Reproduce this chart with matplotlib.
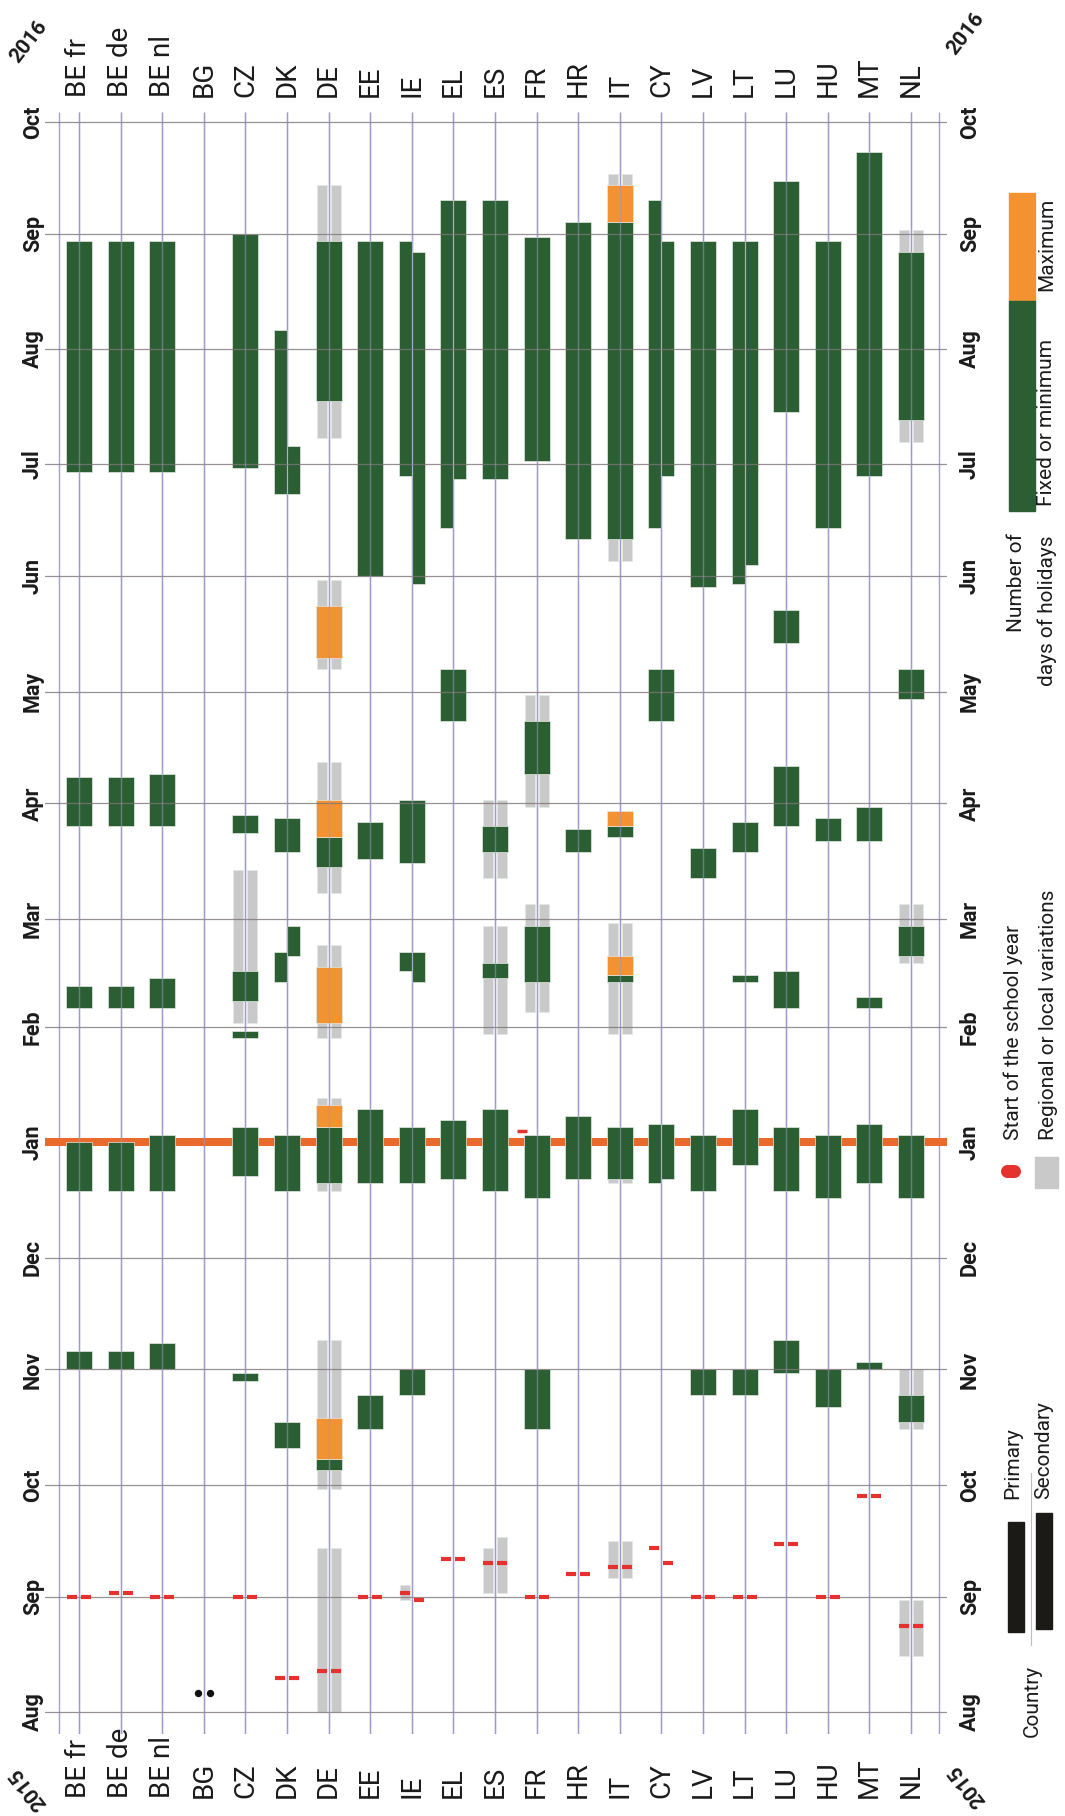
"""
School holidays 2015/16 by country, drawn rotated (time runs bottom to top,
one column per country, left half primary, right half secondary).

Output: out.png
"""
from datetime import date
import matplotlib
matplotlib.use('Agg')
import matplotlib.pyplot as plt
import matplotlib.dates as mdates
import matplotlib.transforms as mtransforms
from matplotlib.patches import Rectangle
from matplotlib.lines import Line2D

plt.rcParams['font.family'] = ['Roboto', 'DejaVu Sans']

W, H = 1065, 1816

countries = ['BE fr', 'BE de', 'BE nl', 'BG', 'CZ', 'DK', 'DE', 'EE', 'IE', 'EL', 'ES',
             'FR', 'HR', 'IT', 'CY', 'LV', 'LT', 'LU', 'HU', 'MT', 'NL']
month_labels = ['Aug', 'Sep', 'Oct', 'Nov', 'Dec', 'Jan', 'Feb', 'Mar', 'Apr',
                'May', 'Jun', 'Jul', 'Aug', 'Sep', 'Oct']
month_starts = ['2015-08-01', '2015-09-01', '2015-10-01', '2015-11-01', '2015-12-01',
                '2016-01-01', '2016-02-01', '2016-03-01', '2016-04-01', '2016-05-01',
                '2016-06-01', '2016-07-01', '2016-08-01', '2016-09-01', '2016-10-01']

# (country, level, first day, day after last); level B = both, P = primary, S = secondary
fixed_min = [
    ('BE fr', 'B', '2015-11-01', '2015-11-06'), ('BE fr', 'B', '2015-12-19', '2016-01-01'),
    ('BE fr', 'B', '2016-02-06', '2016-02-12'), ('BE fr', 'B', '2016-03-26', '2016-04-08'),
    ('BE fr', 'B', '2016-06-29', '2016-08-30'),
    ('BE de', 'B', '2015-11-01', '2015-11-06'), ('BE de', 'B', '2015-12-19', '2016-01-01'),
    ('BE de', 'B', '2016-02-06', '2016-02-12'), ('BE de', 'B', '2016-03-26', '2016-04-08'),
    ('BE de', 'B', '2016-06-29', '2016-08-30'),
    ('BE nl', 'B', '2015-11-01', '2015-11-08'), ('BE nl', 'B', '2015-12-19', '2016-01-03'),
    ('BE nl', 'B', '2016-02-06', '2016-02-14'), ('BE nl', 'B', '2016-03-26', '2016-04-09'),
    ('BE nl', 'B', '2016-06-29', '2016-08-30'),
    ('CZ', 'B', '2015-10-29', '2015-10-31'), ('CZ', 'B', '2015-12-23', '2016-01-05'),
    ('CZ', 'B', '2016-01-29', '2016-01-31'), ('CZ', 'B', '2016-02-08', '2016-02-16'),
    ('CZ', 'B', '2016-03-24', '2016-03-29'), ('CZ', 'B', '2016-06-30', '2016-09-01'),
    ('DK', 'B', '2015-10-11', '2015-10-18'), ('DK', 'B', '2015-12-19', '2016-01-03'),
    ('DK', 'P', '2016-02-13', '2016-02-21'), ('DK', 'S', '2016-02-20', '2016-02-28'),
    ('DK', 'B', '2016-03-19', '2016-03-28'), ('DK', 'P', '2016-06-23', '2016-08-06'),
    ('DK', 'S', '2016-06-23', '2016-07-06'),
    ('DE', 'B', '2015-10-05', '2015-10-08'), ('DE', 'B', '2015-12-21', '2016-01-05'),
    ('DE', 'B', '2016-03-15', '2016-03-23'), ('DE', 'B', '2016-07-18', '2016-08-30'),
    ('EE', 'B', '2015-10-16', '2015-10-25'), ('EE', 'B', '2015-12-21', '2016-01-10'),
    ('EE', 'B', '2016-03-17', '2016-03-27'), ('EE', 'B', '2016-06-01', '2016-08-30'),
    ('IE', 'B', '2015-10-25', '2015-11-01'), ('IE', 'B', '2015-12-21', '2016-01-05'),
    ('IE', 'P', '2016-02-16', '2016-02-21'), ('IE', 'S', '2016-02-13', '2016-02-21'),
    ('IE', 'B', '2016-03-16', '2016-04-02'), ('IE', 'P', '2016-06-28', '2016-08-30'),
    ('IE', 'S', '2016-05-30', '2016-08-27'),
    ('EL', 'B', '2015-12-22', '2016-01-07'), ('EL', 'B', '2016-04-23', '2016-05-07'),
    ('EL', 'P', '2016-06-14', '2016-09-10'), ('EL', 'S', '2016-06-27', '2016-09-10'),
    ('ES', 'B', '2015-12-19', '2016-01-10'), ('ES', 'B', '2016-02-14', '2016-02-18'),
    ('ES', 'B', '2016-03-19', '2016-03-26'), ('ES', 'B', '2016-06-27', '2016-09-10'),
    ('FR', 'B', '2015-10-16', '2015-11-01'), ('FR', 'B', '2015-12-17', '2016-01-03'),
    ('FR', 'B', '2016-02-13', '2016-02-28'), ('FR', 'B', '2016-04-09', '2016-04-23'),
    ('FR', 'B', '2016-07-02', '2016-08-31'),
    ('HR', 'B', '2015-12-22', '2016-01-08'), ('HR', 'B', '2016-03-19', '2016-03-25'),
    ('HR', 'B', '2016-06-11', '2016-09-04'),
    ('IT', 'B', '2015-12-22', '2016-01-05'), ('IT', 'B', '2016-02-13', '2016-02-15'),
    ('IT', 'B', '2016-03-23', '2016-03-26'), ('IT', 'B', '2016-06-11', '2016-09-04'),
    ('CY', 'P', '2015-12-21', '2016-01-06'), ('CY', 'S', '2015-12-22', '2016-01-06'),
    ('CY', 'B', '2016-04-23', '2016-05-07'), ('CY', 'P', '2016-06-14', '2016-09-10'),
    ('CY', 'S', '2016-06-28', '2016-08-30'),
    ('LV', 'B', '2015-10-25', '2015-11-01'), ('LV', 'B', '2015-12-19', '2016-01-03'),
    ('LV', 'B', '2016-03-12', '2016-03-20'), ('LV', 'B', '2016-05-29', '2016-08-30'),
    ('LT', 'B', '2015-10-25', '2015-11-01'), ('LT', 'B', '2015-12-26', '2016-01-10'),
    ('LT', 'B', '2016-02-13', '2016-02-15'), ('LT', 'B', '2016-03-19', '2016-03-27'),
    ('LT', 'P', '2016-05-30', '2016-08-30'), ('LT', 'S', '2016-06-04', '2016-08-30'),
    ('LU', 'B', '2015-10-31', '2015-11-09'), ('LU', 'B', '2015-12-19', '2016-01-05'),
    ('LU', 'B', '2016-02-06', '2016-02-16'), ('LU', 'B', '2016-03-26', '2016-04-11'),
    ('LU', 'B', '2016-05-14', '2016-05-23'), ('LU', 'B', '2016-07-15', '2016-09-15'),
    ('HU', 'B', '2015-10-22', '2015-11-01'), ('HU', 'B', '2015-12-17', '2016-01-03'),
    ('HU', 'B', '2016-03-22', '2016-03-28'), ('HU', 'B', '2016-06-14', '2016-08-30'),
    ('MT', 'B', '2015-11-01', '2015-11-03'), ('MT', 'B', '2015-12-21', '2016-01-06'),
    ('MT', 'B', '2016-02-06', '2016-02-09'), ('MT', 'B', '2016-03-22', '2016-03-31'),
    ('MT', 'B', '2016-06-28', '2016-09-23'),
    ('NL', 'B', '2015-10-18', '2015-10-25'), ('NL', 'B', '2015-12-17', '2016-01-03'),
    ('NL', 'B', '2016-02-20', '2016-02-28'), ('NL', 'B', '2016-04-29', '2016-05-07'),
    ('NL', 'B', '2016-07-13', '2016-08-27'),
]

maximum = [
    ('DE', 'B', '2015-10-08', '2015-10-19'), ('DE', 'B', '2016-01-05', '2016-01-11'),
    ('DE', 'B', '2016-02-02', '2016-02-17'), ('DE', 'B', '2016-03-23', '2016-04-02'),
    ('DE', 'B', '2016-05-10', '2016-05-24'),
    ('IT', 'B', '2016-02-15', '2016-02-20'), ('IT', 'B', '2016-03-26', '2016-03-30'),
    ('IT', 'B', '2016-09-04', '2016-09-14'),
]

regional = [
    ('CZ', 'B', '2016-02-02', '2016-03-14'),
    ('DE', 'B', '2015-08-01', '2015-09-14'), ('DE', 'B', '2015-09-30', '2015-11-09'),
    ('DE', 'B', '2015-12-19', '2016-01-13'), ('DE', 'B', '2016-01-29', '2016-02-23'),
    ('DE', 'B', '2016-03-08', '2016-04-12'), ('DE', 'B', '2016-05-07', '2016-05-31'),
    ('DE', 'B', '2016-07-08', '2016-09-14'),
    ('IE', 'P', '2015-08-31', '2015-09-04'),
    ('ES', 'P', '2015-09-02', '2015-09-14'), ('ES', 'S', '2015-09-02', '2015-09-17'),
    ('ES', 'B', '2016-01-30', '2016-02-28'), ('ES', 'B', '2016-03-12', '2016-04-02'),
    ('FR', 'B', '2016-02-05', '2016-03-05'), ('FR', 'B', '2016-03-31', '2016-04-30'),
    ('IT', 'B', '2015-09-06', '2015-09-16'), ('IT', 'B', '2015-12-21', '2016-01-05'),
    ('IT', 'B', '2016-01-30', '2016-02-29'), ('IT', 'B', '2016-06-05', '2016-09-17'),
    ('NL', 'B', '2015-08-16', '2015-08-31'), ('NL', 'B', '2015-10-16', '2015-11-01'),
    ('NL', 'B', '2016-02-18', '2016-03-05'), ('NL', 'B', '2016-07-07', '2016-09-02'),
]

school_start = [
    ('BE fr', 'B', '2015-09-01'), ('BE de', 'B', '2015-09-02'), ('BE nl', 'B', '2015-09-01'),
    ('CZ', 'B', '2015-09-01'), ('DK', 'B', '2015-08-10'), ('DE', 'B', '2015-08-12'),
    ('EE', 'B', '2015-09-01'), ('IE', 'P', '2015-09-02'), ('IE', 'S', '2015-08-31'),
    ('EL', 'B', '2015-09-11'), ('ES', 'B', '2015-09-10'), ('FR', 'B', '2015-09-01'),
    ('HR', 'B', '2015-09-07'), ('IT', 'B', '2015-09-09'), ('CY', 'P', '2015-09-14'),
    ('CY', 'S', '2015-09-10'), ('LV', 'B', '2015-09-01'), ('LT', 'B', '2015-09-01'),
    ('LU', 'B', '2015-09-15'), ('HU', 'B', '2015-09-01'), ('MT', 'B', '2015-09-28'),
    ('NL', 'B', '2015-08-24'),
]
fr_extra_start = '2016-01-04'      # small stray mark left of FR in January
no_data = [('BG', '2015-08-06')]   # the two dots

GREEN = '#2c5e34'
ORANGE = '#f39231'
GREY = '#c9c9c9'
RED = '#e6322f'
YEAR_LINE = '#ea6a2d'
COL_LINE = '#9d97c9'
MONTH_LINE = '#7d7676'
TXT = '#1b1b1b'


def dnum(s):
    return mdates.date2num(date.fromisoformat(s))


def fx(px):
    return px / W


def fy(py):
    return 1 - py / H


xpos = {c: i for i, c in enumerate(countries)}
HALF = 13 / 41.6
G0, G1 = 2 / 41.6, 12 / 41.6

fig = plt.figure(figsize=(W / 100, H / 100), dpi=100)
ax = fig.add_axes([fx(45), fy(1734), (947 - 45) / W, (1734 - 112) / H])
aug1 = dnum('2015-08-01')
ax.set_xlim(-0.817, 20.865)
ax.set_ylim(aug1 - 22 / 3.724, aug1 + 1600 / 3.724)
ax.axis('off')


def halves(level, a, b):
    # x-extents of the half columns a mark covers
    out = []
    if level in ('B', 'P'):
        out.append((-b, -a))
    if level in ('B', 'S'):
        out.append((a, b))
    return out


def draw_bars(rows, color, z, grey=False):
    for c, lev, s, e in rows:
        x = xpos[c]
        y0, y1 = dnum(s), dnum(e)
        if grey:
            parts = halves(lev, G0, G1)
        elif lev == 'B':
            parts = [(-HALF, HALF)]
        else:
            parts = halves(lev, 0, HALF)
        for a, b in parts:
            ax.bar(x + a, y1 - y0, width=b - a, bottom=y0, align='edge', color=color,
                   edgecolor='#e4e9e2', linewidth=0.5, zorder=z)


# grid
for m in month_starts:
    if m == '2016-01-01':
        continue   # covered by the year line
    ax.axhline(dnum(m), color=MONTH_LINE, lw=0.9, alpha=0.8, zorder=3.5)
ylo, yhi = ax.get_ylim()
ax.vlines(list(range(len(countries))) + [-0.48, 20.67], ylo, yhi,
          color=COL_LINE, lw=1.0, alpha=0.9, zorder=1.2)

# year boundary
ax.axhline(dnum('2016-01-01'), color=YEAR_LINE, lw=5.8, zorder=1.5)

draw_bars(regional, GREY, 2, grey=True)
draw_bars(fixed_min, GREEN, 3)
draw_bars(maximum, ORANGE, 3)

# column lines show through the bars
for i in range(len(countries)):
    ax.vlines(i, ylo, yhi, color=COL_LINE, lw=1.0, alpha=0.55, zorder=3.6)

# start of the school year
for c, lev, d in school_start:
    for a, b in halves(lev, G0, G1):
        ax.hlines(dnum(d), xpos[c] + a, xpos[c] + b, color=RED, lw=3, zorder=5)
ax.hlines(dnum(fr_extra_start), xpos['FR'] - 0.48, xpos['FR'] - 0.22, color=RED, lw=2.5, zorder=5)
for c, d in no_data:
    ax.scatter([xpos[c] - 0.145, xpos[c] + 0.145], [dnum(d)] * 2, s=28, color='#111111',
               zorder=5, linewidths=0)

# month labels on both sides
tr_month = mtransforms.blended_transform_factory(fig.transFigure, ax.transData)
for lab, m in zip(month_labels, month_starts):
    for px in (33, 970):
        ax.text(fx(px), dnum(m), lab, transform=tr_month, rotation=90, ha='center',
                va='center', fontsize=15.5, fontweight='bold', color=TXT, clip_on=False)

# country labels top and bottom
tr_ctry = mtransforms.blended_transform_factory(ax.transData, fig.transFigure)
for c in countries:
    ax.text(xpos[c], fy(97), c, transform=tr_ctry, rotation=90, ha='center', va='bottom',
            fontsize=20, color=TXT, clip_on=False)
    ax.text(xpos[c], fy(1798), c, transform=tr_ctry, rotation=90, ha='center', va='bottom',
            fontsize=20, color=TXT, clip_on=False)

# year corners
for px, py, s, r in [(29, 42, '2016', 52), (966, 34, '2016', 52),
                     (28, 1789, '2015', 128), (967, 1786, '2015', 128)]:
    fig.text(fx(px), fy(py), s, rotation=r, ha='center', va='center', fontsize=15,
             fontweight='bold', color=TXT)

# legend: number of days
fig.add_artist(Rectangle((fx(1009), fy(301)), 26 / W, 108 / H, transform=fig.transFigure,
                         color=ORANGE))
fig.add_artist(Rectangle((fx(1009), fy(511)), 26 / W, 210 / H, transform=fig.transFigure,
                         color=GREEN))
leg_kw = dict(rotation=90, ha='center', fontsize=15, color=TXT)
fig.text(fx(1047), fy(244), 'Maximum', va='center', **leg_kw)
fig.text(fx(1047), fy(506), 'Fixed or minimum', va='bottom', **leg_kw)
fig.text(fx(1016), fy(533), 'Number of', va='top', **leg_kw)
fig.text(fx(1047), fy(535), 'days of holidays', va='top', **leg_kw)

# legend: start of year / regional
fig.add_artist(Line2D([fx(1006.5), fx(1013.5)], [fy(1171)] * 2, lw=9.4, color=RED,
                      solid_capstyle='round', transform=fig.transFigure))
fig.add_artist(Rectangle((fx(1035), fy(1188)), 23 / W, 31 / H, transform=fig.transFigure,
                         color=GREY))
fig.text(fx(1013), fy(1140), 'Start of the school year', va='bottom', **leg_kw)
fig.text(fx(1049), fy(1140), 'Regional or local variations', va='bottom', **leg_kw)

# legend: primary / secondary
fig.add_artist(Rectangle((fx(1008), fy(1632)), 15.5 / W, 110 / H, transform=fig.transFigure,
                         color='#1c1a17'))
fig.add_artist(Rectangle((fx(1036), fy(1629)), 15.5 / W, 116 / H, transform=fig.transFigure,
                         color='#1c1a17'))
fig.add_artist(Line2D([fx(1030.5)] * 2, [fy(1473), fy(1645)], lw=0.8, color='#bdbdbd',
                      transform=fig.transFigure))
fig.text(fx(1013), fy(1499), 'Primary', va='bottom', **leg_kw)
fig.text(fx(1044), fy(1499), 'Secondary', va='bottom', **leg_kw)
fig.text(fx(1032), fy(1737), 'Country', va='bottom', **leg_kw)

fig.savefig('out.png', dpi=100, facecolor='white')
print('Saved: out.png')
